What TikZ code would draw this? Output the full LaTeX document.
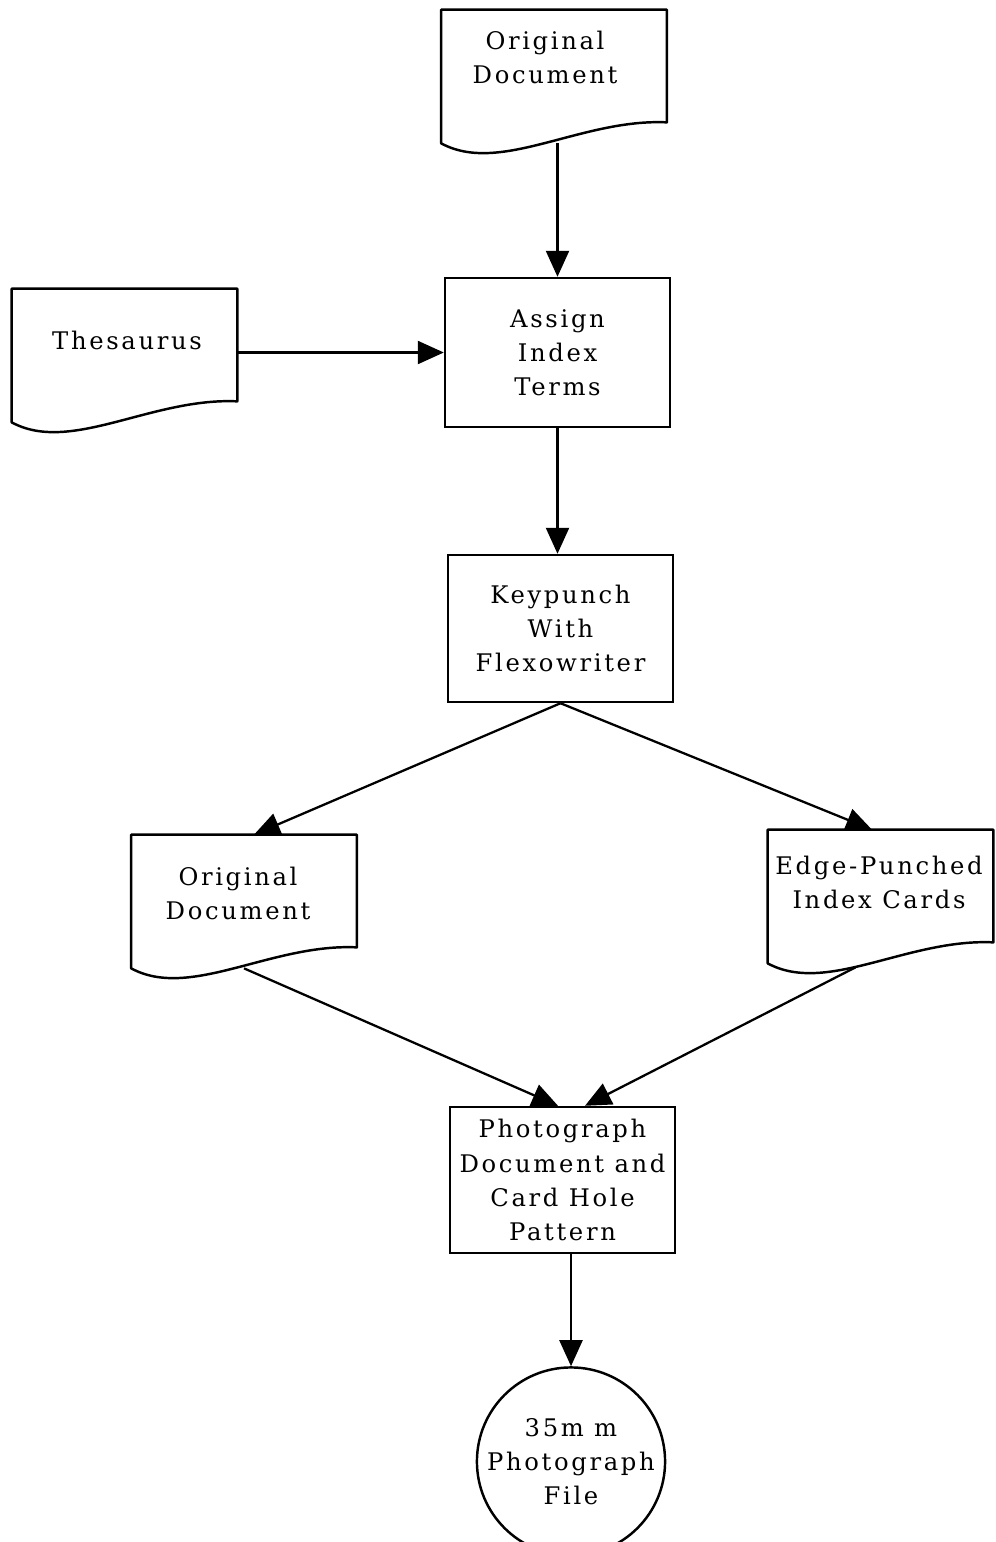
\documentclass[tikz,border=0pt]{standalone}
\usepackage{fontspec}
\usetikzlibrary{arrows.meta}

\newfontfamily\chartface{DejaVu Serif}[LetterSpace=11]
\newcommand\chartfont{\chartface\fontsize{13.8}{19.4}\selectfont}
% document symbol drawn round an empty node
\newcommand\docoutline[1]{%
  \draw[line width=1.4pt, line join=round] (#1.north west) -- (#1.north east) -- ([yshift=0.42cm]#1.south east)
    .. controls +(-1.72cm,0.08cm) and +(1.18cm,-0.64cm) .. (#1.south west) -- cycle;}

\begin{document}
\begin{tikzpicture}[x=0.02cm, y=-0.02cm,
	docbox/.style={minimum width=4.5cm, minimum height=2.66cm, inner sep=0pt},
	lbl/.style={align=center, font=\chartfont},
	procbox/.style={draw, line width=1.4pt, minimum width=4.5cm, inner sep=0pt, lbl},
	filecirc/.style={draw, circle, line width=1.4pt, minimum size=3.66cm, inner sep=0pt, lbl},
	arr/.style={line width=1.3pt, -{Triangle[length=0.52cm, width=0.46cm]}}]
	\useasboundingbox (0,0) rectangle (995,1542);

	\node[docbox] (orig) at (554,76.5) {};
	\node[lbl] (orig-txt) at (545,57.5) {Original\\Document};
	\node[procbox, minimum height=2.98cm] (assign) at (557.5,352.5) {Assign\\Index\\Terms};
	\node[docbox] (thes) at (124.5,355.5) {};
	\node[lbl] (thes-txt) at (127,340) {Thesaurus};
	\node[procbox, minimum height=2.94cm] (keyp) at (560.5,628.5) {Keypunch\\With\\Flexowriter};
	\node[docbox] (odoc) at (244,901.5) {};
	\node[lbl] (odoc-txt) at (238,893) {Original\\Document};
	\node[docbox] (cards) at (880.5,896.5) {};
	\node[lbl] (cards-txt) at (879,882.5) {Edge-Punched\\Index Cards};
	\node[procbox, minimum height=2.92cm] (photo) at (562.5,1180) {Photograph\\Document and\\Card Hole\\Pattern};
	\node[filecirc] (file) at (571,1461.5) {35m m\\Photograph\\File};

	\docoutline{orig}
	\docoutline{thes}
	\docoutline{odoc}
	\docoutline{cards}

	\draw[arr] (orig.south -| assign.north) -- (assign.north);
	\draw[arr] (thes.east |- assign.west) -- (assign.west);
	\draw[arr] (assign.south) -- (assign.south |- keyp.north);
	\draw[arr] (keyp.south) -- ([xshift=0.2cm]odoc.north);
	\draw[arr] (keyp.south) -- ([xshift=-0.17cm]cards.north);
	\draw[arr] (odoc.south) -- ([xshift=-0.09cm]photo.north);
	\draw[arr] ([xshift=-0.5cm,yshift=-0.08cm]cards.south) -- ([xshift=0.45cm]photo.north);
	\draw[arr] (photo.south -| file.north) -- (file.north);
\end{tikzpicture}
\end{document}
